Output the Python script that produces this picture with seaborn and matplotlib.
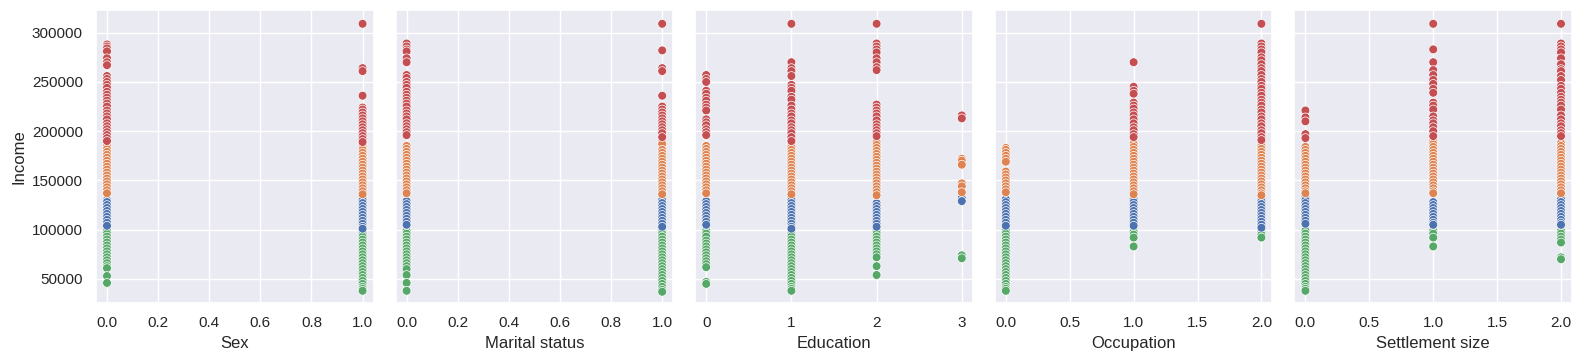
import matplotlib
matplotlib.use("Agg")
import matplotlib.pyplot as plt
import seaborn as sns
import pandas as pd

# ---------------- data (income values per panel / category / cluster) ----------------
cluster_names = ["low", "mid", "upper", "high"]
cluster_colors = {"low": "#55a868", "mid": "#4c72b0", "upper": "#dd8452", "high": "#c44e52"}

panel_titles = ["Sex", "Marital status", "Education", "Occupation", "Settlement size"]

orange_full = [187000, 184000, 181000, 178000, 175000, 172000, 169000, 166000, 163000,
               160000, 157000, 154000, 151000, 148000, 145000, 142000, 139000, 136000]
green_full = [99000, 96000, 93000, 90000, 87000, 84000, 81000, 78000, 75000, 72000,
              69000, 66000, 63000, 60000, 57000, 54000, 51000, 48000, 45000, 42000, 40000, 38000]

sex_data = {
    0: {"high": [288000, 286000, 284000, 281000, 274000, 270000, 267000, 256000, 253000, 250000,
                 247000, 244000, 240000, 237000, 234000, 231000, 228000, 225000, 221000, 218000,
                 215000, 212000, 208000, 205000, 202000, 199000, 196000, 193000, 190000],
        "upper": [185000, 182000, 179000, 176000, 173000, 170000, 167000, 164000, 161000, 158000,
                  155000, 152000, 149000, 146000, 143000, 140000, 137000],
        "mid": [130000, 128000, 125000, 122000, 119000, 116000, 113000, 110000, 107000, 104000],
        "low": [99000, 96000, 93000, 90000, 87000, 84000, 81000, 78000, 75000, 72000, 69000,
                66000, 63000, 61000, 53000, 46000]},
    1: {"high": [309000, 264000, 261000, 236000, 224000, 222000, 219000, 216000, 213000, 210000,
                 207000, 204000, 201000, 198000, 195000, 192000, 189000],
        "upper": orange_full,
        "mid": [133000, 130000, 127000, 124000, 121000, 118000, 115000, 112000, 109000, 106000,
                103000, 101000],
        "low": green_full},
}

marital_data = {
    0: {"high": [289000, 286000, 283000, 281000, 274000, 270000, 257000, 254000, 250000, 247000,
                 244000, 240000, 237000, 234000, 231000, 228000, 225000, 221000, 218000, 215000,
                 212000, 208000, 205000, 202000, 199000, 196000],
        "upper": [185000, 182000, 179000, 176000, 173000, 170000, 167000, 164000, 161000, 158000,
                  155000, 152000, 149000, 146000, 143000, 140000, 137000],
        "mid": [129000, 126000, 123000, 120000, 117000, 114000, 111000, 108000, 105000],
        "low": [99000, 96000, 93000, 90000, 87000, 84000, 81000, 78000, 75000, 72000, 69000,
                66000, 63000, 60000, 54000, 46000, 38000]},
    1: {"high": [309000, 282000, 264000, 261000, 236000, 225000, 222000, 219000, 216000, 213000,
                 210000, 207000, 204000, 201000, 198000, 194000],
        "upper": [190000, 187000, 181000, 178000, 175000, 172000, 169000, 166000, 163000, 160000,
                  157000, 154000, 151000, 148000, 145000, 142000, 139000, 136000],
        "mid": [133000, 130000, 127000, 124000, 121000, 118000, 115000, 112000, 109000, 106000,
                103000],
        "low": [99000, 96000, 93000, 90000, 87000, 84000, 81000, 78000, 75000, 72000, 69000,
                66000, 63000, 60000, 57000, 54000, 51000, 48000, 45000, 42000, 39000, 37000]},
}

education_data = {
    0: {"high": [257000, 253000, 250000, 241000, 238000, 234000, 231000, 227000, 224000, 221000,
                 212000, 209000, 206000, 202000, 199000, 196000],
        "upper": [185000, 182000, 179000, 176000, 173000, 170000, 167000, 164000, 161000, 158000,
                  155000, 152000, 149000, 146000, 143000, 140000, 137000],
        "mid": [129000, 126000, 123000, 120000, 117000, 114000, 111000, 108000, 105000],
        "low": [99000, 96000, 93000, 89000, 86000, 83000, 80000, 77000, 74000, 71000, 68000,
                65000, 62000, 47000, 45000]},
    1: {"high": [309000, 270000, 264000, 261000, 256000, 247000, 244000, 241000, 235000, 232000,
                 226000, 222000, 218000, 215000, 211000, 208000, 204000, 201000, 198000, 194000,
                 190000],
        "upper": orange_full,
        "mid": [133000, 130000, 127000, 124000, 121000, 118000, 115000, 112000, 109000, 106000,
                103000, 101000],
        "low": green_full},
    2: {"high": [309000, 289000, 286000, 283000, 280000, 274000, 270000, 265000, 262000, 227000,
                 224000, 221000, 218000, 215000, 211000, 207000, 204000, 201000, 198000, 195000],
        "upper": [189000, 186000, 183000, 180000, 177000, 174000, 171000, 168000, 165000, 162000,
                  159000, 156000, 153000, 150000, 147000, 144000, 141000, 138000, 135000],
        "mid": [127000, 124000, 121000, 118000, 115000, 112000, 109000, 106000, 103000],
        "low": [99000, 96000, 93000, 90000, 87000, 84000, 81000, 78000, 75000, 72000, 63000,
                54000]},
    3: {"high": [216000, 213000],
        "upper": [172000, 170000, 166000, 147000, 144000, 138000],
        "mid": [132000, 129000],
        "low": [74000, 71000]},
}

occupation_data = {
    0: {"upper": [183000, 181000, 178000, 175000, 172000, 169000, 159000, 156000, 153000, 150000,
                  147000, 144000, 141000, 138000],
        "mid": [131000, 128000, 125000, 122000, 119000, 116000, 113000, 110000, 107000, 104000],
        "low": green_full},
    1: {"high": [270000, 245000, 241000, 238000, 229000, 226000, 223000, 219000, 216000, 212000,
                 208000, 204000, 201000, 197000, 194000],
        "upper": orange_full,
        "mid": [131000, 128000, 125000, 122000, 119000, 116000, 113000, 110000, 107000, 104000],
        "low": [98000, 95000, 92000, 83000]},
    2: {"high": [309000, 289000, 286000, 283000, 280000, 275000, 272000, 268000, 264000, 261000,
                 257000, 253000, 250000, 246000, 243000, 239000, 236000, 232000, 229000, 226000,
                 222000, 219000, 215000, 212000, 208000, 205000, 201000, 198000, 194000, 191000],
        "upper": [188000, 185000, 182000, 179000, 176000, 173000, 170000, 167000, 164000, 161000,
                  158000, 155000, 152000, 149000, 146000, 143000, 140000, 137000, 135000],
        "mid": [132000, 129000, 126000, 123000, 120000, 117000, 114000, 111000, 108000, 105000,
                102000],
        "low": [98000, 95000, 92000]},
}

settlement_data = {
    0: {"high": [221000, 214000, 210000, 197000, 193000],
        "upper": [184000, 181000, 178000, 175000, 172000, 169000, 166000, 163000, 160000, 157000,
                  154000, 151000, 148000, 145000, 142000, 139000, 137000],
        "mid": [133000, 130000, 127000, 124000, 121000, 118000, 115000, 112000, 109000, 106000],
        "low": green_full},
    1: {"high": [309000, 283000, 270000, 262000, 257000, 252000, 248000, 243000, 239000, 229000,
                 226000, 222000, 215000, 211000, 208000, 204000, 200000, 195000],
        "upper": [190000, 187000, 184000, 181000, 178000, 175000, 172000, 169000, 166000, 163000,
                  160000, 157000, 154000, 151000, 148000, 145000, 142000, 139000, 137000],
        "mid": [128000, 125000, 122000, 119000, 116000, 113000, 110000, 107000, 105000],
        "low": [99000, 96000, 92000, 83000]},
    2: {"high": [309000, 289000, 286000, 283000, 280000, 274000, 268000, 263000, 261000, 256000,
                 252000, 246000, 243000, 239000, 235000, 232000, 229000, 226000, 222000, 216000,
                 212000, 208000, 205000, 201000, 198000, 195000],
        "upper": [188000, 185000, 182000, 179000, 176000, 173000, 170000, 167000, 164000, 161000,
                  158000, 155000, 152000, 149000, 146000, 143000, 140000, 137000],
        "mid": [131000, 128000, 125000, 122000, 119000, 116000, 113000, 110000, 107000, 105000],
        "low": [99000, 96000, 93000, 90000, 87000, 72000, 70000]},
}

panel_data = [sex_data, marital_data, education_data, occupation_data, settlement_data]
x_ticks = [[0.0, 0.2, 0.4, 0.6, 0.8, 1.0],
           [0.0, 0.2, 0.4, 0.6, 0.8, 1.0],
           [0, 1, 2, 3],
           [0.0, 0.5, 1.0, 1.5, 2.0],
           [0.0, 0.5, 1.0, 1.5, 2.0]]
x_tick_labels = [["0.0", "0.2", "0.4", "0.6", "0.8", "1.0"],
                 ["0.0", "0.2", "0.4", "0.6", "0.8", "1.0"],
                 ["0", "1", "2", "3"],
                 ["0.0", "0.5", "1.0", "1.5", "2.0"],
                 ["0.0", "0.5", "1.0", "1.5", "2.0"]]
y_ticks = [50000, 100000, 150000, 200000, 250000, 300000]


def to_frame(data, name):
    rows = []
    for xv, groups in data.items():
        for cl in cluster_names:
            for v in groups.get(cl, []):
                rows.append((xv, v, cl))
    return pd.DataFrame(rows, columns=[name, "Income", "Cluster"])


# ---------------- plot ----------------
sns.set_theme(style="darkgrid")
plt.rcParams["font.family"] = ["Liberation Sans", "DejaVu Sans"]
W, H = 1584, 363
fig, axes = plt.subplots(1, 5, figsize=(W / 100, H / 100), dpi=100, sharey=True)
fig.subplots_adjust(left=96 / W, right=1572 / W, top=1 - 10 / H, bottom=1 - 303 / H,
                    wspace=22 / 277)

for ax, data, title, ticks, labels in zip(axes, panel_data, panel_titles, x_ticks, x_tick_labels):
    df = to_frame(data, title)
    sns.scatterplot(data=df, x=title, y="Income", hue="Cluster", hue_order=cluster_names,
                    palette=cluster_colors, legend=False, ax=ax, s=40)
    ax.set_xticks(ticks)
    ax.set_xticklabels(labels)
    xmin, xmax = ticks[0], ticks[-1]
    pad = (xmax - xmin) * 0.043
    ax.set_xlim(xmin - pad, xmax + pad)
    ax.set_xlabel(title)
    if ax is not axes[0]:
        ax.set_ylabel("")

axes[0].set_ylim(25600, 323000)
axes[0].set_yticks(y_ticks)
axes[0].set_yticklabels([str(v) for v in y_ticks])
axes[0].set_ylabel("Income")

fig.savefig("out.png", dpi=100)
